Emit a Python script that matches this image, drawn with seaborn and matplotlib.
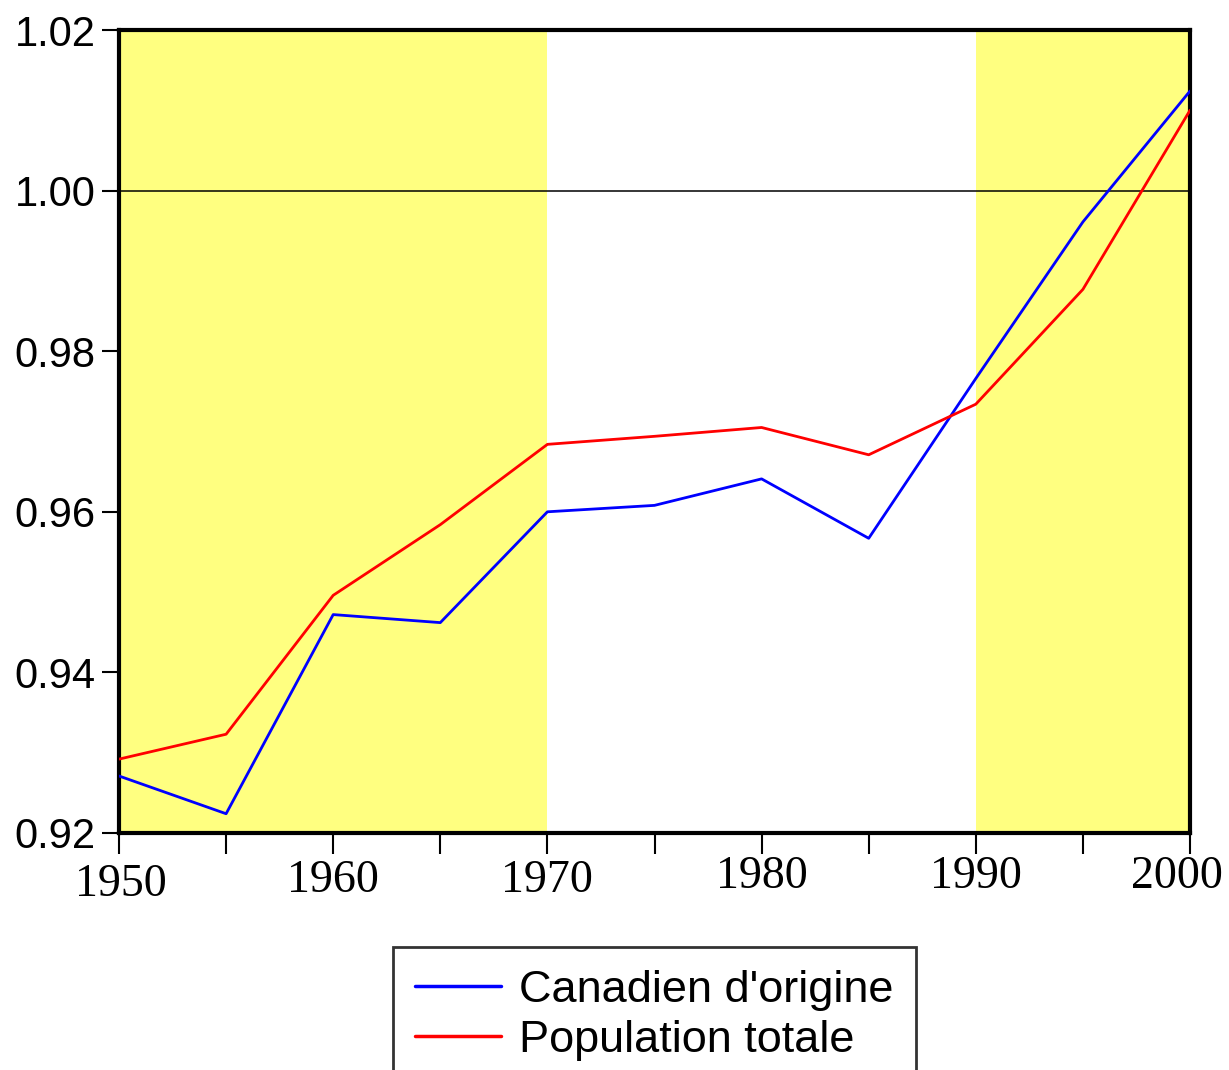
import numpy as np
import pandas as pd
import seaborn as sns
import matplotlib.pyplot as plt
import matplotlib.transforms as mtransforms
from matplotlib.ticker import MultipleLocator

# data
years = [1950, 1955, 1960, 1965, 1970, 1975, 1980, 1985, 1990, 1995, 2000]
canadien = [0.9271, 0.9224, 0.9472, 0.9462, 0.9600, 0.9608, 0.9641, 0.9567, 0.9766, 0.9961, 1.0124]
population = [0.9292, 0.9323, 0.9496, 0.9584, 0.9684, 0.9694, 0.9705, 0.9671, 0.9734, 0.9877, 1.0100]
series_names = ["Canadien d'origine", "Population totale"]
shaded = [(1950, 1970), (1990, 2000)]

df = pd.DataFrame({
    "annee": years * 2,
    "valeur": canadien + population,
    "serie": [series_names[0]] * len(years) + [series_names[1]] * len(years),
})

sns.set_style("white", {"text.color": "black", "xtick.color": "black",
                        "ytick.color": "black", "axes.labelcolor": "black"})
plt.rcParams['font.family'] = ['Liberation Sans', 'DejaVu Sans']

fig = plt.figure(figsize=(12.29, 10.70), dpi=100)
ax = fig.add_axes([119 / 1229, 1 - 833 / 1070, (1190 - 119) / 1229, (833 - 30) / 1070])

for a, b in shaded:
    ax.axvspan(a, b, color="#ffff80", lw=0, zorder=0)
ax.axhline(1.0, color="black", lw=1.1, zorder=1)

sns.lineplot(data=df, x="annee", y="valeur", hue="serie",
             palette=["#0000ff", "#ff0000"], lw=2.0, ax=ax, zorder=3)

ax.set_xlim(1950, 2000)
ax.set_ylim(0.92, 1.02)
ax.set_xlabel("")
ax.set_ylabel("")

ax.yaxis.set_major_locator(MultipleLocator(0.02))
ax.set_yticklabels([f"{v:.2f}" for v in ax.get_yticks()])
ax.xaxis.set_major_locator(MultipleLocator(10))
ax.xaxis.set_minor_locator(MultipleLocator(5))

for s in ax.spines.values():
    s.set_linewidth(3)
    s.set_color("black")

ax.tick_params(axis="y", which="major", direction="out", length=12, width=1.5,
               labelsize=30, pad=5, left=True, colors="black")
ax.tick_params(axis="x", which="both", direction="out", length=15, width=1.5,
               bottom=True, pad=1.5, colors="black")
for lab in ax.get_xticklabels():
    lab.set_fontfamily("Liberation Serif")
    lab.set_fontsize(33)

# slight offsets of the x labels as in the original
fig.canvas.draw()
offsets = {"1950": (2, -8), "1960": (0, -4), "1970": (0, -4), "2000": (-13, 0)}
for lab in ax.get_xticklabels():
    dx, dy = offsets.get(lab.get_text(), (0, 0))
    lab.set_transform(lab.get_transform() + mtransforms.Affine2D().translate(dx, dy))

leg = ax.legend(loc="upper center", bbox_to_anchor=(0.5, -0.1255), frameon=True,
                fontsize=32.5, handlelength=1.9, handletextpad=0.4,
                borderpad=0.5, borderaxespad=0.3, labelspacing=0.2, fancybox=False)
leg.get_frame().set_edgecolor("black")
leg.get_frame().set_linewidth(2)
for t in leg.get_texts():
    t.set_color("black")
for h in leg.get_lines():
    h.set_linewidth(2.5)

fig.savefig("out.png", dpi=100)
